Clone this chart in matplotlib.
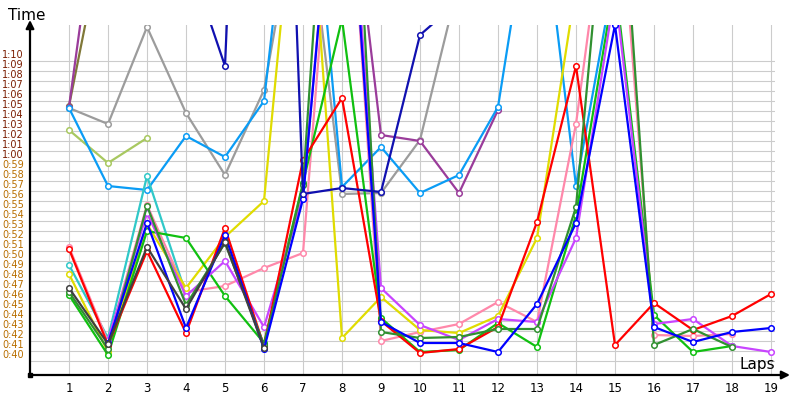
import numpy as np
import matplotlib.pyplot as plt

nan = np.nan
laps = list(range(1, 20))

# lap times in seconds, one list per driver (nan = no point / off chart)
yellowgreen = [63.1, 59.8, 62.3] + [nan] * 16
olive = [65.5, 85.0] + [nan] * 17
gray = [65.3, 63.7, 73.4, 64.8, 58.6, 67.1, 89.0, 56.7, 56.8, 62.1, 78.0] + [nan] * 8
purple = [65.4, 94.0, nan, nan, nan, nan, nan, 95.6, 62.6, 62.0, 56.8, 65.1] + [nan] * 7
lightblue = [65.3, 57.5, 57.1, 62.5, 60.4, 66.0, 100.0, 57.4, 61.4, 56.8, 58.6, 65.4, 90.0, 57.5, 79.0] + [nan] * 4
cyan = [49.6, 42.3, 58.5, 46.7] + [nan] * 15
pink = [51.4, 41.9, 55.6, 46.9, 47.5, 49.3, 50.8, 100.0, 42.0, 42.9, 43.7, 45.9, 43.9, 63.7, 93.0, 42.6, 42.5, 42.7, nan]
yellow = [48.7, 40.9, 53.7, 47.3, 52.4, 56.0, 97.0, 42.3, 46.4, 43.1, 42.8, 44.5, 52.3, 77.5] + [nan] * 5
green = [46.6, 40.6, 53.0, 52.3, 46.5, 41.8, 57.8, 74.2, 44.3, 40.9, 41.1, 43.8, 41.4, 54.6, 78.0, 44.6, 40.9, 41.5, nan]
violet = [nan, 42.1, 54.8, 46.5, 50.0, 43.4, 56.5, 100.0, 47.3, 43.6, 42.1, 44.2, 43.9, 52.3, 77.0, 43.7, 44.2, 41.5, 40.9]
red = [51.2, 41.6, 51.0, 42.8, 53.3, 41.5, 60.1, 66.3, 44.0, 40.8, 41.2, 43.4, 53.9, 69.5, 41.6, 45.8, 43.1, 44.5, 46.7]
darkgreen = [46.9, 41.2, 55.5, 45.6, 51.8, 41.6, 57.6, 115.0, 42.9, 42.3, 42.4, 43.2, 43.2, 55.4, 98.0, 41.6, 43.2, 41.4, nan]
blue = [nan, 41.8, 53.8, 43.3, 52.6, 41.2, 56.2, 100.0, 43.9, 41.8, 41.8, 40.9, 45.7, 53.8, 73.6, 43.4, 41.9, 42.9, 43.3]
darkgray = [47.3, 41.7, 51.4, 45.2, 51.9, 41.3] + [nan] * 13
navy = [nan, nan, nan, 81.0, 69.5, 160.0, 56.7, 57.3, 56.9, 72.6, 76.0] + [nan] * 8

series = [
    (yellowgreen, '#a8c860'),
    (olive, '#807838'),
    (gray, '#9c9c9c'),
    (purple, '#9a3c9a'),
    (lightblue, '#0a9cf5'),
    (cyan, '#30c8c8'),
    (pink, '#ff88aa'),
    (yellow, '#e0dc00'),
    (green, '#10c010'),
    (violet, '#c845ff'),
    (red, '#ff0000'),
    (darkgreen, '#309030'),
    (blue, '#0000ff'),
    (darkgray, '#404040'),
    (navy, '#1010b0'),
]

fig = plt.figure(figsize=(8, 4), dpi=100)
ax = fig.add_axes([30 / 800, 25 / 400, 745 / 800, 350 / 400])
ax.set_xlim(0, 745 / 39)
ax.set_ylim(38.6, 73.6)

for sp in ax.spines.values():
    sp.set_visible(False)

ax.set_xticks(laps)
ax.set_xticklabels([str(l) for l in laps], fontsize=8.5)
ax.tick_params(axis='x', length=0, pad=5)
ax.set_yticks(range(40, 71))
ax.set_yticklabels([])
ax.tick_params(axis='y', length=0)
ax.grid(True, color='#cccccc', lw=0.8)
ax.set_axisbelow(True)

# y labels sit a little above their grid lines
for s in range(40, 71):
    lab = f"{s // 60}:{s % 60:02d}"
    col = '#7a1c00' if s >= 60 else '#b86e00'
    ax.text(-6 / 39, s + 0.6, lab, ha='right', va='center', fontsize=7,
            color=col, clip_on=False)

for vals, col in series:
    ax.plot(laps, vals, color=col, lw=1.6, marker='o', ms=4,
            mfc='white', mec=col, mew=1.1)

# axes with arrows
arr = dict(arrowstyle='-|>', color='black', lw=1.6, mutation_scale=12,
           shrinkA=0, shrinkB=0)
ax.annotate('', xy=(0, 355 / 350), xytext=(0, 0), xycoords='axes fraction',
            arrowprops=arr)
ax.annotate('', xy=(760 / 745, 0), xytext=(0, 0), xycoords='axes fraction',
            arrowprops=arr)
ax.plot([0], [38.6], marker='s', ms=3, color='black', clip_on=False)

fig.text(8 / 800, 1 - 20 / 400, 'Time', fontsize=11, ha='left', va='baseline')
fig.text(775 / 800, 1 - 369 / 400, 'Laps', fontsize=11, ha='right', va='baseline')

fig.savefig('out.png', dpi=100)
